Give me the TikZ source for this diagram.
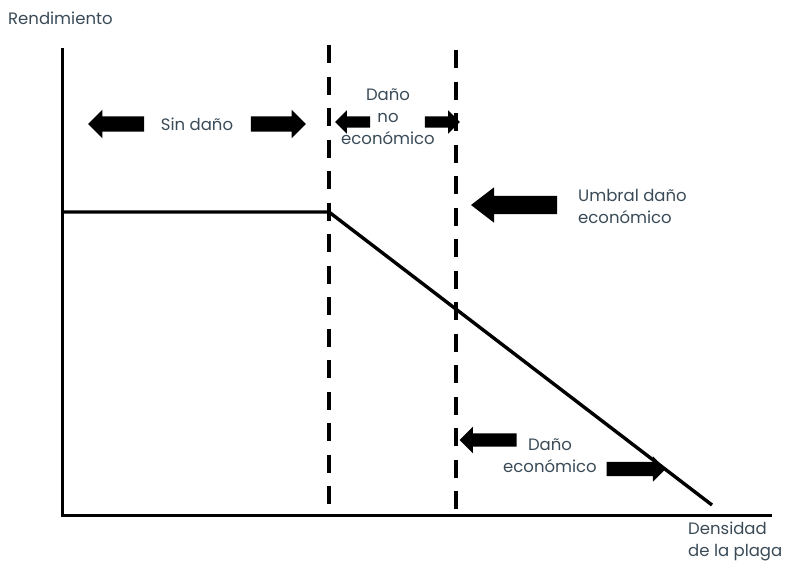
\documentclass[tikz,border=0pt]{standalone}
\usepackage{fontspec}
\setmainfont{Poppins}
\usetikzlibrary{shapes.arrows}
\definecolor{txt}{HTML}{3A4B57}
\tikzset{
  lbl/.style={text=txt, font=\fontsize{16.5}{22}\selectfont, inner sep=0pt, align=center},
  axisline/.style={line width=3pt, black},
  curve/.style={line width=3.4pt, black},
  dashline/.style={line width=3.2pt, black, dash pattern=on 18pt off 13.5pt},
  barrow/.style={single arrow, fill=black, draw=none, inner xsep=0pt, single arrow tip angle=90, single arrow head indent=0pt},
}
\begin{document}
\begin{tikzpicture}[x=1pt,y=-1pt]
\useasboundingbox (0,0) rectangle (791,566);
% coordinates
\coordinate (O) at (62,515);
\coordinate (Ytop) at (62,48);
\coordinate (Xend) at (772,515);
\coordinate (Ystart) at (62,212);
\coordinate (K) at (329,212);
\coordinate (E) at (712,505);
\coordinate (D1t) at (329,45);
\coordinate (D1b) at (329,515);
\coordinate (D2t) at (456,50);
\coordinate (D2b) at (456,515);
% axes
\draw[axisline] (Ytop) -- (O) -- (Xend);
% yield curve
\draw[curve] (Ystart) -- (K) -- (E);
% dashed thresholds
\draw[dashline] (D1t) -- (D1b);
\draw[dashline] (D2t) -- (D2b);
% labels
\node[lbl, anchor=west] (rend) at (8,18) {Rendimiento};
\node[lbl, anchor=west, align=left] (dens) at (688,541) {Densidad\\de la plaga};
\node[lbl] (sin) at (197,124) {Sin daño};
\node[lbl] (dne) at (388,117) {Daño\\no\\económico};
\node[lbl, anchor=west, align=left] (umb) at (578,206) {Umbral daño\\económico};
\node[lbl] (de) at (550,456) {Daño\\económico};
% block arrows
\node[barrow, shape border rotate=180, minimum height=56pt, inner ysep=7.5pt, single arrow head extend=6.5pt] (a1) at (120,124) {};
\node[barrow, minimum height=55pt, inner ysep=7.5pt, single arrow head extend=6.5pt] (a2) at (274.5,124) {};
\node[barrow, shape border rotate=180, minimum height=35pt, inner ysep=5.5pt, single arrow head extend=6pt] (a3) at (355.5,122) {};
\node[barrow, minimum height=35pt, inner ysep=5.5pt, single arrow head extend=6pt] (a4) at (439.5,122) {};
\node[barrow, shape border rotate=180, minimum height=86pt, inner ysep=9pt, single arrow head extend=8.5pt, single arrow tip angle=75] (a5) at (520,205) {};
\node[barrow, shape border rotate=180, minimum height=57pt, inner ysep=6.5pt, single arrow head extend=6.5pt] (a6) at (491.5,440) {};
\node[barrow, minimum height=59pt, inner ysep=7pt, single arrow head extend=5.5pt] (a7) at (632.5,469) {};
\end{tikzpicture}
\end{document}
